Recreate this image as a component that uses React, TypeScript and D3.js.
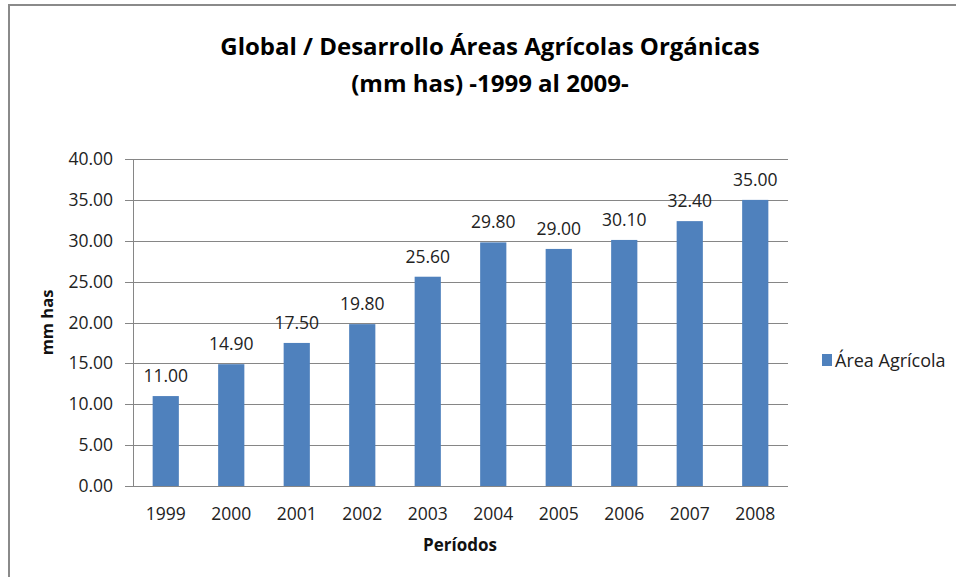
import React, { useEffect, useRef } from "react";
import * as d3 from "d3";

const categories = ["1999", "2000", "2001", "2002", "2003", "2004", "2005", "2006", "2007", "2008"];
const values = [11.0, 14.9, 17.5, 19.8, 25.6, 29.8, 29.0, 30.1, 32.4, 35.0];
const yTicks = [0, 5, 10, 15, 20, 25, 30, 35, 40];
const seriesName = "Área Agrícola";
const titleLines = ["Global / Desarrollo Áreas Agrícolas Orgánicas", "(mm has) -1999 al 2009-"];
const yTitle = "mm has";
const xTitle = "Períodos";

const W = 956;
const H = 577;
const FONT = "'Open Sans', 'Noto Sans', sans-serif";
const BAR = "#4F81BD";
const GRID = "#868686";

export default function App() {
  const ref = useRef<SVGSVGElement>(null);

  useEffect(() => {
    const svg = d3.select(ref.current);
    svg.selectAll("*").remove();

    const left = 133, right = 788, top = 159, bottom = 486;

    // outer border
    svg.append("rect")
      .attr("x", 9).attr("y", 5).attr("width", W + 20).attr("height", H + 20)
      .attr("fill", "white").attr("stroke", "#8a8a8a").attr("stroke-width", 2);

    const x = d3.scaleBand().domain(categories).range([left, right]).paddingInner(0.6).paddingOuter(0.3);
    const y = d3.scaleLinear().domain([0, 40]).range([bottom, top]);

    // gridlines + ticks
    const g = svg.append("g");
    g.selectAll("line.grid").data(yTicks).enter().append("line")
      .attr("x1", left - 8).attr("x2", right)
      .attr("y1", (d) => Math.round(y(d)) + 0.5).attr("y2", (d) => Math.round(y(d)) + 0.5)
      .attr("stroke", GRID).attr("stroke-width", 1);
    g.append("line").attr("x1", left + 0.5).attr("x2", left + 0.5)
      .attr("y1", top).attr("y2", bottom).attr("stroke", GRID);

    g.selectAll("text.yt").data(yTicks).enter().append("text")
      .attr("x", left - 20).attr("y", (d) => y(d) + 6)
      .attr("text-anchor", "end").attr("font-family", FONT).attr("font-size", 17.5).attr("fill", "#222")
      .text((d) => d.toFixed(2));

    // bars
    g.selectAll("rect.bar").data(values).enter().append("rect")
      .attr("x", (_, i) => x(categories[i])!)
      .attr("width", x.bandwidth())
      .attr("y", (d) => y(d))
      .attr("height", (d) => bottom - y(d))
      .attr("fill", BAR);
    // redraw baseline over bars
    g.append("line").attr("x1", left - 8).attr("x2", right)
      .attr("y1", bottom + 0.5).attr("y2", bottom + 0.5).attr("stroke", GRID);

    // data labels
    g.selectAll("text.dl").data(values).enter().append("text")
      .attr("x", (_, i) => x(categories[i])! + x.bandwidth() / 2)
      .attr("y", (d) => y(d) - 14)
      .attr("text-anchor", "middle").attr("font-family", FONT).attr("font-size", 17.5).attr("fill", "#222")
      .text((d) => d.toFixed(2));

    // x labels
    g.selectAll("text.xl").data(categories).enter().append("text")
      .attr("x", (d) => x(d)! + x.bandwidth() / 2)
      .attr("y", 520)
      .attr("text-anchor", "middle").attr("font-family", FONT).attr("font-size", 17.5).attr("fill", "#222")
      .text((d) => d);

    // titles
    svg.selectAll("text.title").data(titleLines).enter().append("text")
      .attr("x", 490).attr("y", (_, i) => 55 + i * 37)
      .attr("text-anchor", "middle").attr("font-family", FONT).attr("font-weight", "bold")
      .attr("font-size", 24).attr("fill", "#000")
      .text((d) => d);

    svg.append("text")
      .attr("transform", `translate(53, ${(top + bottom) / 2}) rotate(-90)`)
      .attr("text-anchor", "middle").attr("font-family", FONT).attr("font-weight", "bold")
      .attr("font-size", 16.5).attr("fill", "#111").text(yTitle);

    svg.append("text")
      .attr("x", 460).attr("y", 551)
      .attr("text-anchor", "middle").attr("font-family", FONT).attr("font-weight", "bold")
      .attr("font-size", 17).attr("fill", "#111").text(xTitle);

    // legend
    svg.append("rect").attr("x", 822).attr("y", 354).attr("width", 10).attr("height", 12).attr("fill", BAR);
    svg.append("text").attr("x", 835).attr("y", 367)
      .attr("font-family", FONT).attr("font-size", 18).attr("fill", "#222").text(seriesName);
  }, []);

  return (
    <svg ref={ref} width={W} height={H}
      style={{ position: "absolute", left: 0, top: 0, display: "block", background: "white" }} />
  );
}
